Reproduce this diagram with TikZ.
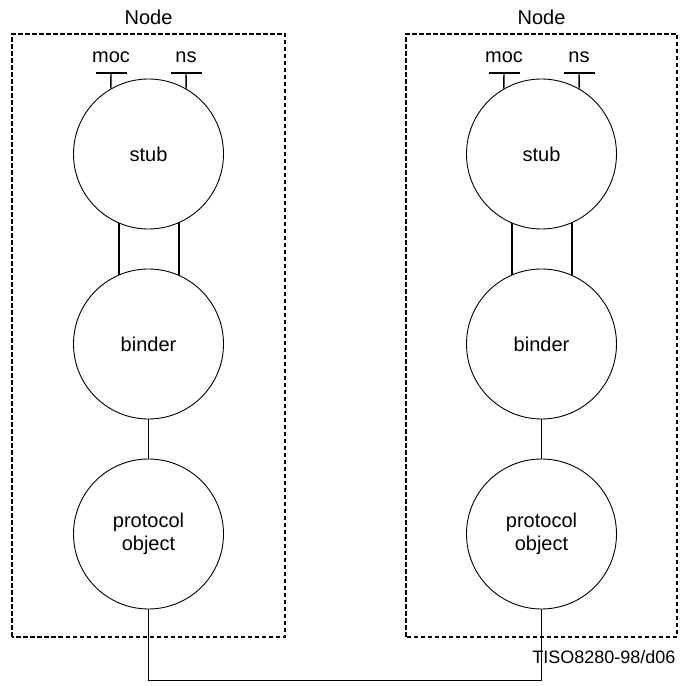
\documentclass[tikz,border=0pt]{standalone}
\usepackage{fontspec}
\setmainfont{Liberation Sans}
\usetikzlibrary{calc}

\begin{document}
\begin{tikzpicture}[x=1pt, y=1pt, font=\fontsize{20}{23}\selectfont]
      \useasboundingbox (0,0) rectangle (680,686);
      \tikzstyle{frame}=[draw, dash pattern=on 4.5pt off 2.5pt, line width=1.4pt]
      \tikzstyle{tbar}=[line width=1.4pt]
      \tikzstyle{pair}=[line width=1.4pt]

      \foreach \s/\x/\l/\r in {l/148.5/12/285, r/541.5/406/677}
      {
        \draw[frame] (\l,49) rectangle (\r,652);
        \node[anchor=base] (title\s) at (\x,661) {Node};

        {\tikzstyle{every node}=[circle, draw, line width=0.9pt,
            minimum size=150pt, inner sep=0pt, align=center]
          \node (stub\s) at (\x,532) {stub};
          \node (binder\s) at (\x,342) {binder};
          \node (proto\s) at (\x,152) {protocol\\object};
        }

        \coordinate (moc\s) at (\x-37.5,613);
        \coordinate (ns\s) at (\x+37.5,613);
        \draw[tbar] (stub\s.120) -- (moc\s);
        \draw[tbar] ([xshift=-15.5pt]moc\s) -- ([xshift=15.5pt]moc\s);
        \draw[tbar] (stub\s.60) -- (ns\s);
        \draw[tbar] ([xshift=-15.5pt]ns\s) -- ([xshift=15.5pt]ns\s);
        \node[anchor=base] (moctxt\s) at ([yshift=10pt]moc\s) {moc};
        \node[anchor=base] (nstxt\s) at ([yshift=10pt]ns\s) {ns};

        \draw[pair]
          (stub\s.-113.58) -- (binder\s.113.58)
          (stub\s.-66.42) -- (binder\s.66.42);
        \draw[line width=0.9pt] (binder\s) -- (proto\s);
      }

      \coordinate (bus) at (0,6);
      \draw[line width=0.9pt]
        (protol.south) -- (protol.south |- bus) -| (protor.south);

      \node[anchor=base east, font=\fontsize{18}{21}\selectfont] (figid)
        at (679,22) {TISO8280-98/d06};
\end{tikzpicture}
\end{document}
